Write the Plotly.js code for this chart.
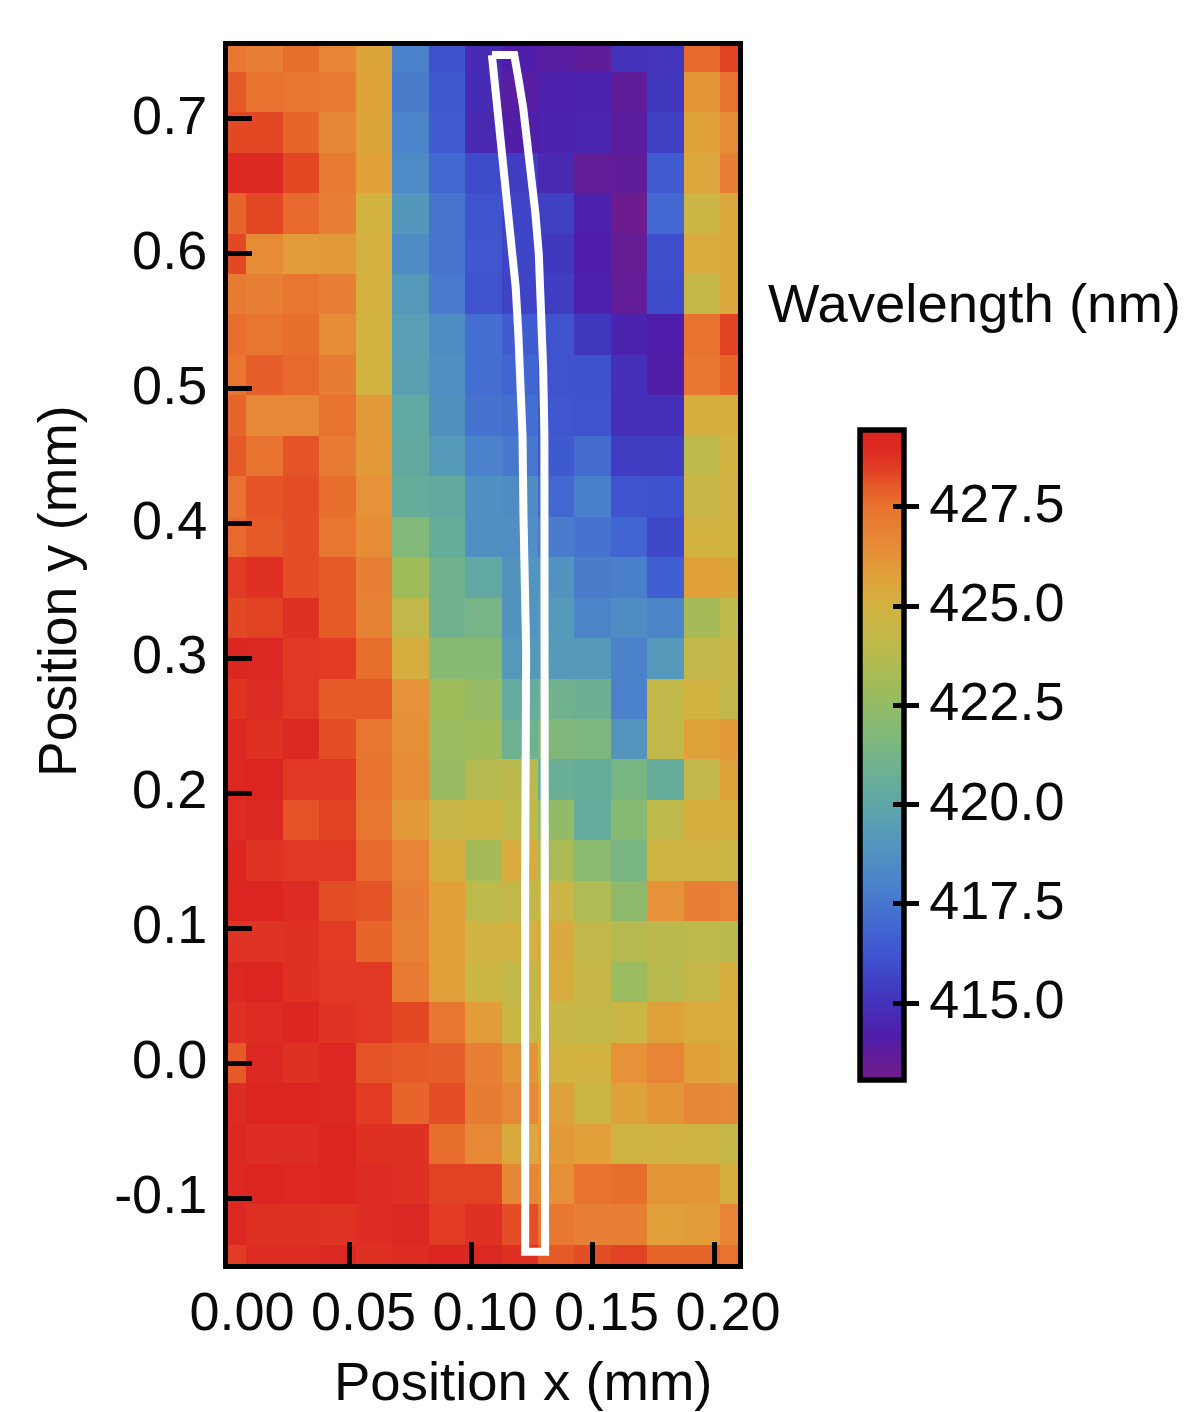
<!DOCTYPE html>
<html><head><meta charset="utf-8">
<script src="https://cdn.plot.ly/plotly-3.0.0.min.js"></script>
<style>html,body{margin:0;padding:0;background:#fff}</style></head>
<body><div id="chart" style="width:1185px;height:1412px"></div>
<script>
const xPositions=[0,0.015,0.03,0.045,0.06,0.075,0.09,0.105,0.12,0.135,0.15,0.165,0.18,0.195,0.21];
const yPositions=[0.75,0.72,0.69,0.66,0.63,0.60,0.57,0.54,0.51,0.48,0.45,0.42,0.39,0.36,0.33,0.30,0.27,0.24,0.21,0.18,0.15,0.12,0.09,0.06,0.03,0,-0.03,-0.06,-0.09,-0.12,-0.15];
const wavelength=[
[427.3,427,427.6,426.8,425.6,418,416.1,414.7,414.2,413.9,413.7,415,415.1,427.7,428.4],
[428,427.5,427.3,427.2,425.7,417.8,416.4,414.7,413.9,414.3,414.4,413.7,415.2,426.2,427.5],
[428.3,428.3,427.8,426.7,425.6,418.1,416.5,414.6,414.1,414.4,414.5,413.8,415.5,425.7,426.5],
[429,429,428.3,427.2,425.8,418.4,417,415.9,415.4,414.6,413.6,413.7,416.5,425.5,427],
[427.8,428.3,427.7,427,425,419.1,417.5,416.2,415.6,415.5,414.3,413.2,417,424.6,425.4],
[428.3,426.5,425.9,426,425.1,418.5,417.5,416.3,415.7,415.2,414.2,413.5,416,425.3,425.4],
[427.2,427,427.4,427,425.1,419.2,417.7,416.2,415.6,415.4,414.3,413.6,415.9,424.3,425.4],
[427.6,427.4,427.6,426.5,425,419.5,418.5,417.2,416.5,416.2,415.2,414.4,414.2,427.5,428.4],
[427.4,427.9,427.7,427.1,425,419.6,418.7,417.2,416.9,416.2,416.1,414.9,414.1,427.3,427.8],
[427.8,426.6,426.6,427.5,426,420.2,418.8,417.4,417.2,416.3,416.2,414.9,414.9,425.2,425.2],
[428,427.5,428.1,427.2,426,420.3,419.2,418,417.6,416.4,417.1,415.4,415.4,424,425],
[427.5,428.1,428.2,427.6,426.3,420.5,420.3,418.7,418.5,417,417.9,416.2,416.1,424.5,424.9],
[427.7,428,428.2,427.4,426.5,421.8,420.5,418.7,418.6,417.8,417.4,416.9,415.8,425,425],
[428.5,428.8,428.2,428,427,423,421,420.2,418.9,418.9,417.8,417.9,416.6,425.8,425.6],
[428.3,428.4,428.8,428,426.9,424.2,421,421.3,418.9,419.3,418.2,418.5,418.2,423.2,424],
[429.2,429,428.6,428.5,427.6,425.2,422,422,419.2,419.3,419.2,418,419.2,424.2,424.5],
[428.7,428.9,428.6,428,428,426.3,423,422.6,420.4,421,420.8,418,424.2,425,424.2],
[429,428.8,429,428.2,427.4,426.4,422.8,423,420.9,421.7,421.6,419,424.2,425.7,426],
[429,429.3,428.6,428.6,427.5,426.5,422.7,423.7,423.9,420.7,420.5,421.4,420.5,424.2,425.7],
[428.9,429,428.1,428.4,427.4,426,424.5,424.7,424,422.5,420.4,422,424,425.2,425.2],
[429.2,428.7,428.6,428.6,427.7,426.8,425.2,423.2,425.3,423.4,422.2,421.4,424.8,424.8,424.6],
[429.3,429.3,428.9,428.2,428.1,427,425.8,424,424.2,424.6,423.5,422.3,426.3,427,426.8],
[428.7,428.7,428.8,428.5,427.8,426.9,425.8,424.9,425,425.4,424.2,423.7,423.9,424,423.8],
[429,429.4,428.8,428.6,428.6,427.2,425.8,424.6,424.2,425.3,424.5,422.8,423.8,424.3,425.2],
[428.8,428.9,429.2,428.7,428.6,428.3,427.3,425.9,424.5,424.5,424.3,424.6,425.7,425.3,425.3],
[428,429,428.8,429.1,428.1,428,427.9,427,426.2,425,425,426.3,426.8,425.8,425.4],
[428.9,429.4,429.4,429,428.5,427.8,428.2,427.1,426.6,425.7,424.7,425.7,426.2,426.7,426.6],
[429,428.9,428.9,429.4,428.8,428.8,427.6,426.6,425.4,426,425.8,424.8,424.9,424.8,424.3],
[429,429.3,429.1,429.3,428.9,428.8,428.4,428.4,426.7,426.4,427.5,427.6,426.2,426.2,425.2],
[429,428.8,428.8,428.7,428.9,429,428.5,428.8,428.2,427.3,427,427,425.8,425.9,426.8],
[428.5,428.9,428.9,429,428.8,428.9,429.4,429,428.8,428,428.2,428.4,427.8,427.8,427.5]
];
const outlineX=[0.1086,0.1098,0.1111,0.1125,0.1140,0.1155,0.1170,0.1184,0.1195,0.1204,0.1212,0.1216,0.1223,0.1227,0.1223,0.1223,0.1305,0.1305,0.1307,0.1307,0.1301,0.1302,0.1297,0.1290,0.1279,0.1265,0.1249,0.1233,0.1215,0.1196,0.1178,0.1086];
const outlineY=[0.7474,0.7270,0.7050,0.6800,0.6550,0.6300,0.6050,0.5750,0.5400,0.5050,0.4657,0.4057,0.3500,0.3064,0.1433,-0.1399,-0.1399,0.1433,0.2500,0.3064,0.4057,0.4657,0.5150,0.5562,0.6000,0.6300,0.6580,0.6800,0.7080,0.7290,0.7474,0.7474];
const colorStopValues=[413.06,413.4,414.2,415.2,416,416.8,418,419.3,420.7,421.8,423,424,425,425.8,426.5,427.5,428,428.5,429,429.44];
const colorStopColors=['#701c8f','#691c91','#4e1eaa','#4137be','#3e4ecd','#4164d2','#4b82cb','#559bb9','#69af96','#82b978','#a0bc5a','#beb94b','#d2b241','#e1a03a','#e68c37','#e87330','#e65a28','#e13c23','#dc2823','#dc2420'];
const zMin=413.06, zMax=429.44;
const xTicks=[0,0.05,0.1,0.15,0.2], xTickText=['0.00','0.05','0.10','0.15','0.20'];
const yTicks=[-0.1,0,0.1,0.2,0.3,0.4,0.5,0.6,0.7], yTickText=['-0.1','0.0','0.1','0.2','0.3','0.4','0.5','0.6','0.7'];
const barTicks=[415,417.5,420,422.5,425,427.5], barTickText=['415.0','417.5','420.0','422.5','425.0','427.5'];

const W=1185,H=1412;
const FONT='"Liberation Sans", Arial, sans-serif';
const scale=colorStopValues.map((v,i)=>[(v-zMin)/(zMax-zMin),colorStopColors[i]]);
const ink='#0a0a0a';
const data=[
 {type:'heatmap',x:xPositions,y:yPositions,z:wavelength,zmin:zMin,zmax:zMax,colorscale:scale,zsmooth:false,
  colorbar:{x:860.5/W,xanchor:'left',xpad:0,ypad:0,y:(H-1080)/H,yanchor:'bottom',len:650,lenmode:'pixels',thickness:44,thicknessmode:'pixels',
   outlinewidth:5.5,outlinecolor:'#000',borderwidth:0,tickmode:'array',tickvals:barTicks,ticks:'inside',ticklen:13,tickwidth:5,tickcolor:'#000',showticklabels:false}},
 {type:'scatter',mode:'lines',x:outlineX,y:outlineY,line:{color:'#ffffff',width:8},hoverinfo:'skip',showlegend:false},
 {type:'scatter',mode:'markers',x:[null],y:[null],yaxis:'y2',xaxis:'x',showlegend:false,hoverinfo:'skip'}
];
const tickFont={family:FONT,size:54,color:ink};
const layout={
 width:W,height:H,margin:{l:0,r:0,t:0,b:0},paper_bgcolor:'#fff',plot_bgcolor:'rgba(0,0,0,0)',showlegend:false,
 xaxis:{domain:[228/W,738/W],range:[0,510/2430],tickmode:'array',tickvals:xTicks,ticktext:xTickText,ticks:'inside',ticklen:22,tickwidth:5,tickcolor:'#000',
  showline:true,linewidth:5,linecolor:'#000',mirror:true,showgrid:false,zeroline:false,tickfont:tickFont,ticklabelstandoff:-4,ticklabelshift:14,automargin:false,layer:'above traces'},
 yaxis:{domain:[1-1264/H,1-46/H],range:[-0.1+(1198-1264)/1349,0.7+(119-46)/1349],tickmode:'array',tickvals:yTicks,ticktext:yTickText,ticks:'inside',ticklen:24,tickwidth:5,tickcolor:'#000',
  showline:true,linewidth:5,linecolor:'#000',mirror:true,showgrid:false,zeroline:false,tickfont:tickFont,ticklabelstandoff:5,ticklabelshift:-4,automargin:false,layer:'above traces'},
 yaxis2:{domain:[(H-1080)/H,(H-430)/H],range:[zMin,zMax],anchor:'free',position:904.5/W,side:'right',tickmode:'array',tickvals:barTicks,ticktext:barTickText,ticks:'outside',ticklen:13,tickwidth:5,tickcolor:'#000',
  showline:false,showgrid:false,zeroline:false,tickfont:tickFont,ticklabelstandoff:0,ticklabelshift:-4,automargin:false},
 annotations:[
  {text:'Position x (mm)',xref:'paper',yref:'paper',x:523/W,y:1-1381/H,xanchor:'center',yanchor:'middle',borderpad:0,showarrow:false,font:{family:FONT,size:54.5,color:ink}},
  {text:'Position y (mm)',xref:'paper',yref:'paper',x:57/W,y:1-591/H,xanchor:'center',yanchor:'middle',textangle:-90,showarrow:false,font:{family:FONT,size:53.5,color:ink}},
  {text:'Wavelength (nm)',xref:'paper',yref:'paper',x:974/W,y:1-303/H,xanchor:'center',yanchor:'middle',showarrow:false,font:{family:FONT,size:54.5,color:ink}}
 ]
};
Plotly.newPlot('chart',data,layout,{displayModeBar:false,staticPlot:true});
</script></body></html>
